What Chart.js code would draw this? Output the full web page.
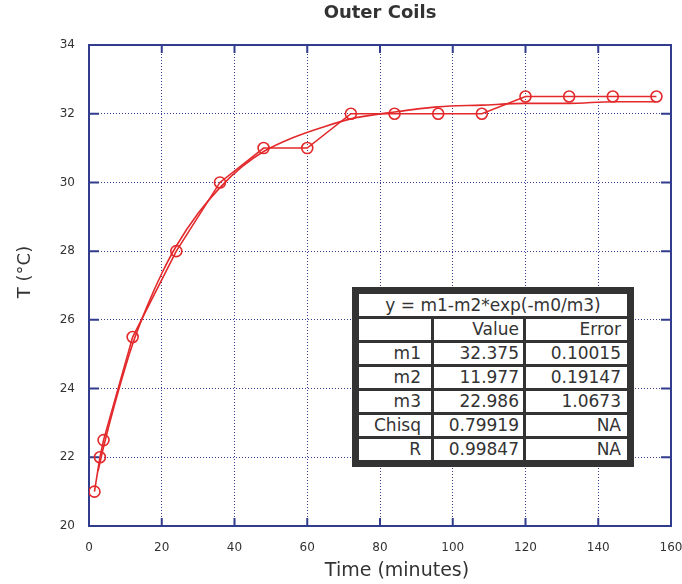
<!DOCTYPE html>
<html>
<head>
<meta charset="utf-8">
<title>Outer Coils</title>
<script src="https://cdn.jsdelivr.net/npm/chart.js@4.4.1/dist/chart.umd.min.js"></script>
<style>
  html, body { margin: 0; padding: 0; background: #fff; overflow: hidden; }
  #wrap { position: relative; width: 700px; height: 584px; }
  #fitbox { position: absolute; left: 352px; top: 287px; background: #333; padding: 4px; }
  #fitbox table { border-spacing: 3px; table-layout: fixed; font: 17px "DejaVu Sans", sans-serif; color: #333; }
  #fitbox td { background: #fff; height: 21px; padding: 0 6px 0 0; text-align: right; white-space: nowrap; line-height: 21px; }
  #fitbox td.head { height: 22px; text-align: center; padding: 0; }
</style>
</head>
<body>
<div id="wrap">
  <canvas id="myChart"></canvas>
  <div id="fitbox"><table id="fitTable"></table></div>
</div>
<script>
// measured points
const timeMin = [1.5, 3, 4, 12, 24, 36, 48, 60, 72, 84, 96, 108, 120, 132, 144, 156];
const tempC = [21, 22, 22.5, 25.5, 28, 30, 31, 31, 32, 32, 32, 32, 32.5, 32.5, 32.5, 32.5];

// fitted curve
const fitTime = [2.5, 4, 8, 12, 16, 20, 24, 30, 36, 42, 48, 56, 64, 72, 84, 96, 108, 120, 132, 144, 156];
const fitTemp = [21.6, 22.3, 23.9, 25.3, 26.4, 27.35, 28.15, 29.1, 29.85, 30.45, 30.9, 31.3, 31.6, 31.85, 32.05, 32.2, 32.25, 32.3, 32.3, 32.35, 32.35];

const xTicks = [0, 20, 40, 60, 80, 100, 120, 140, 160];
const yTicks = [20, 22, 24, 26, 28, 30, 32, 34];

// fit results box
const fitFormula = 'y = m1-m2*exp(-m0/m3)';
const paramNames = ['m1', 'm2', 'm3', 'Chisq', 'R'];
const paramValues = ['32.375', '11.977', '22.986', '0.79919', '0.99847'];
const paramErrors = ['0.10015', '0.19147', '1.0673', 'NA', 'NA'];

const red = '#e3292b';
const navy = '#323c8c';
const font = '"DejaVu Sans", sans-serif';

// build the table
const tbl = document.getElementById('fitTable');
let html = '<colgroup><col style="width:72px"><col style="width:89px"><col style="width:101px"></colgroup>';
html += '<tr><td class="head" colspan="3">' + fitFormula + '</td></tr>';
html += '<tr><td></td><td style="padding-right:4px">Value</td><td>Error</td></tr>';
paramNames.forEach((n, i) => {
  html += '<tr><td style="padding-right:10px">' + n + '</td><td style="padding-right:4px">' + paramValues[i] + '</td><td>' + paramErrors[i] + '</td></tr>';
});
tbl.innerHTML = html;

const framePlugin = {
  id: 'frame',
  beforeDatasetsDraw(chart) {
    const { ctx, chartArea: a, scales: { x, y } } = chart;
    ctx.save();
    ctx.strokeStyle = navy;
    ctx.lineWidth = 2;
    ctx.strokeRect(a.left, a.top, a.right - a.left, a.bottom - a.top);
    ctx.beginPath();
    xTicks.forEach(v => {
      const px = x.getPixelForValue(v);
      ctx.moveTo(px, a.bottom); ctx.lineTo(px, a.bottom - 8);
      ctx.moveTo(px, a.top); ctx.lineTo(px, a.top + 8);
    });
    yTicks.forEach(v => {
      const py = y.getPixelForValue(v);
      ctx.moveTo(a.left, py); ctx.lineTo(a.left + 10, py);
      ctx.moveTo(a.right, py); ctx.lineTo(a.right - 10, py);
    });
    ctx.stroke();
    ctx.restore();
  },
  afterDraw(chart) {
    const ctx = chart.ctx;
    ctx.save();
    ctx.fillStyle = '#333';
    ctx.textAlign = 'center';
    ctx.textBaseline = 'middle';
    ctx.font = '19px ' + font;
    ctx.fillText('Time (minutes)', 397, 571);
    ctx.translate(25, 272);
    ctx.rotate(-Math.PI / 2);
    ctx.font = '18px ' + font;
    ctx.fillText('T (°C)', 0, 0);
    ctx.restore();
  }
};

const ctx = document.getElementById('myChart').getContext('2d');
new Chart(ctx, {
  type: 'scatter',
  data: {
    datasets: [
      {
        label: 'T',
        data: timeMin.map((t, i) => ({ x: t, y: tempC[i] })),
        showLine: true,
        borderColor: red,
        borderWidth: 1.6,
        pointStyle: 'circle',
        pointRadius: 5.5,
        pointBorderWidth: 1.6,
        pointBorderColor: red,
        pointBackgroundColor: 'rgba(0,0,0,0)'
      },
      {
        label: 'fit',
        data: fitTime.map((t, i) => ({ x: t, y: fitTemp[i] })),
        showLine: true,
        borderColor: red,
        borderWidth: 1.6,
        pointRadius: 0,
        cubicInterpolationMode: 'monotone'
      }
    ]
  },
  options: {
    responsive: true,
    maintainAspectRatio: false,
    devicePixelRatio: 1,
    animation: false,
    layout: { padding: { left: 0, right: 29, top: 0, bottom: 0 } },
    plugins: {
      legend: { display: false },
      tooltip: { enabled: false },
      title: {
        display: true,
        text: 'Outer Coils',
        fullSize: false,
        color: '#333',
        font: { family: font, size: 18, weight: 'bold' },
        padding: { top: 3, bottom: 20.4 }
      }
    },
    scales: {
      x: {
        type: 'linear',
        min: xTicks[0],
        max: xTicks[xTicks.length - 1],
        afterBuildTicks: s => { s.ticks = xTicks.map(v => ({ value: v })); },
        afterFit: s => { s.height = 58; s.paddingLeft = 0; s.paddingRight = 0; },
        grid: { color: '#3a3f96', lineWidth: 1, drawTicks: false },
        border: { display: false, dash: [1, 2] },
        ticks: { color: '#333', padding: 15, maxRotation: 0, font: { family: font, size: 12 } }
      },
      y: {
        type: 'linear',
        min: yTicks[0],
        max: yTicks[yTicks.length - 1],
        afterBuildTicks: s => { s.ticks = yTicks.map(v => ({ value: v })); },
        afterFit: s => { s.width = 89; s.paddingTop = 0; s.paddingBottom = 0; },
        grid: { color: '#3a3f96', lineWidth: 1, drawTicks: false },
        border: { display: false, dash: [1, 2] },
        ticks: { color: '#333', padding: 14, font: { family: font, size: 12 } }
      }
    }
  },
  plugins: [framePlugin]
});
</script>
</body>
</html>
